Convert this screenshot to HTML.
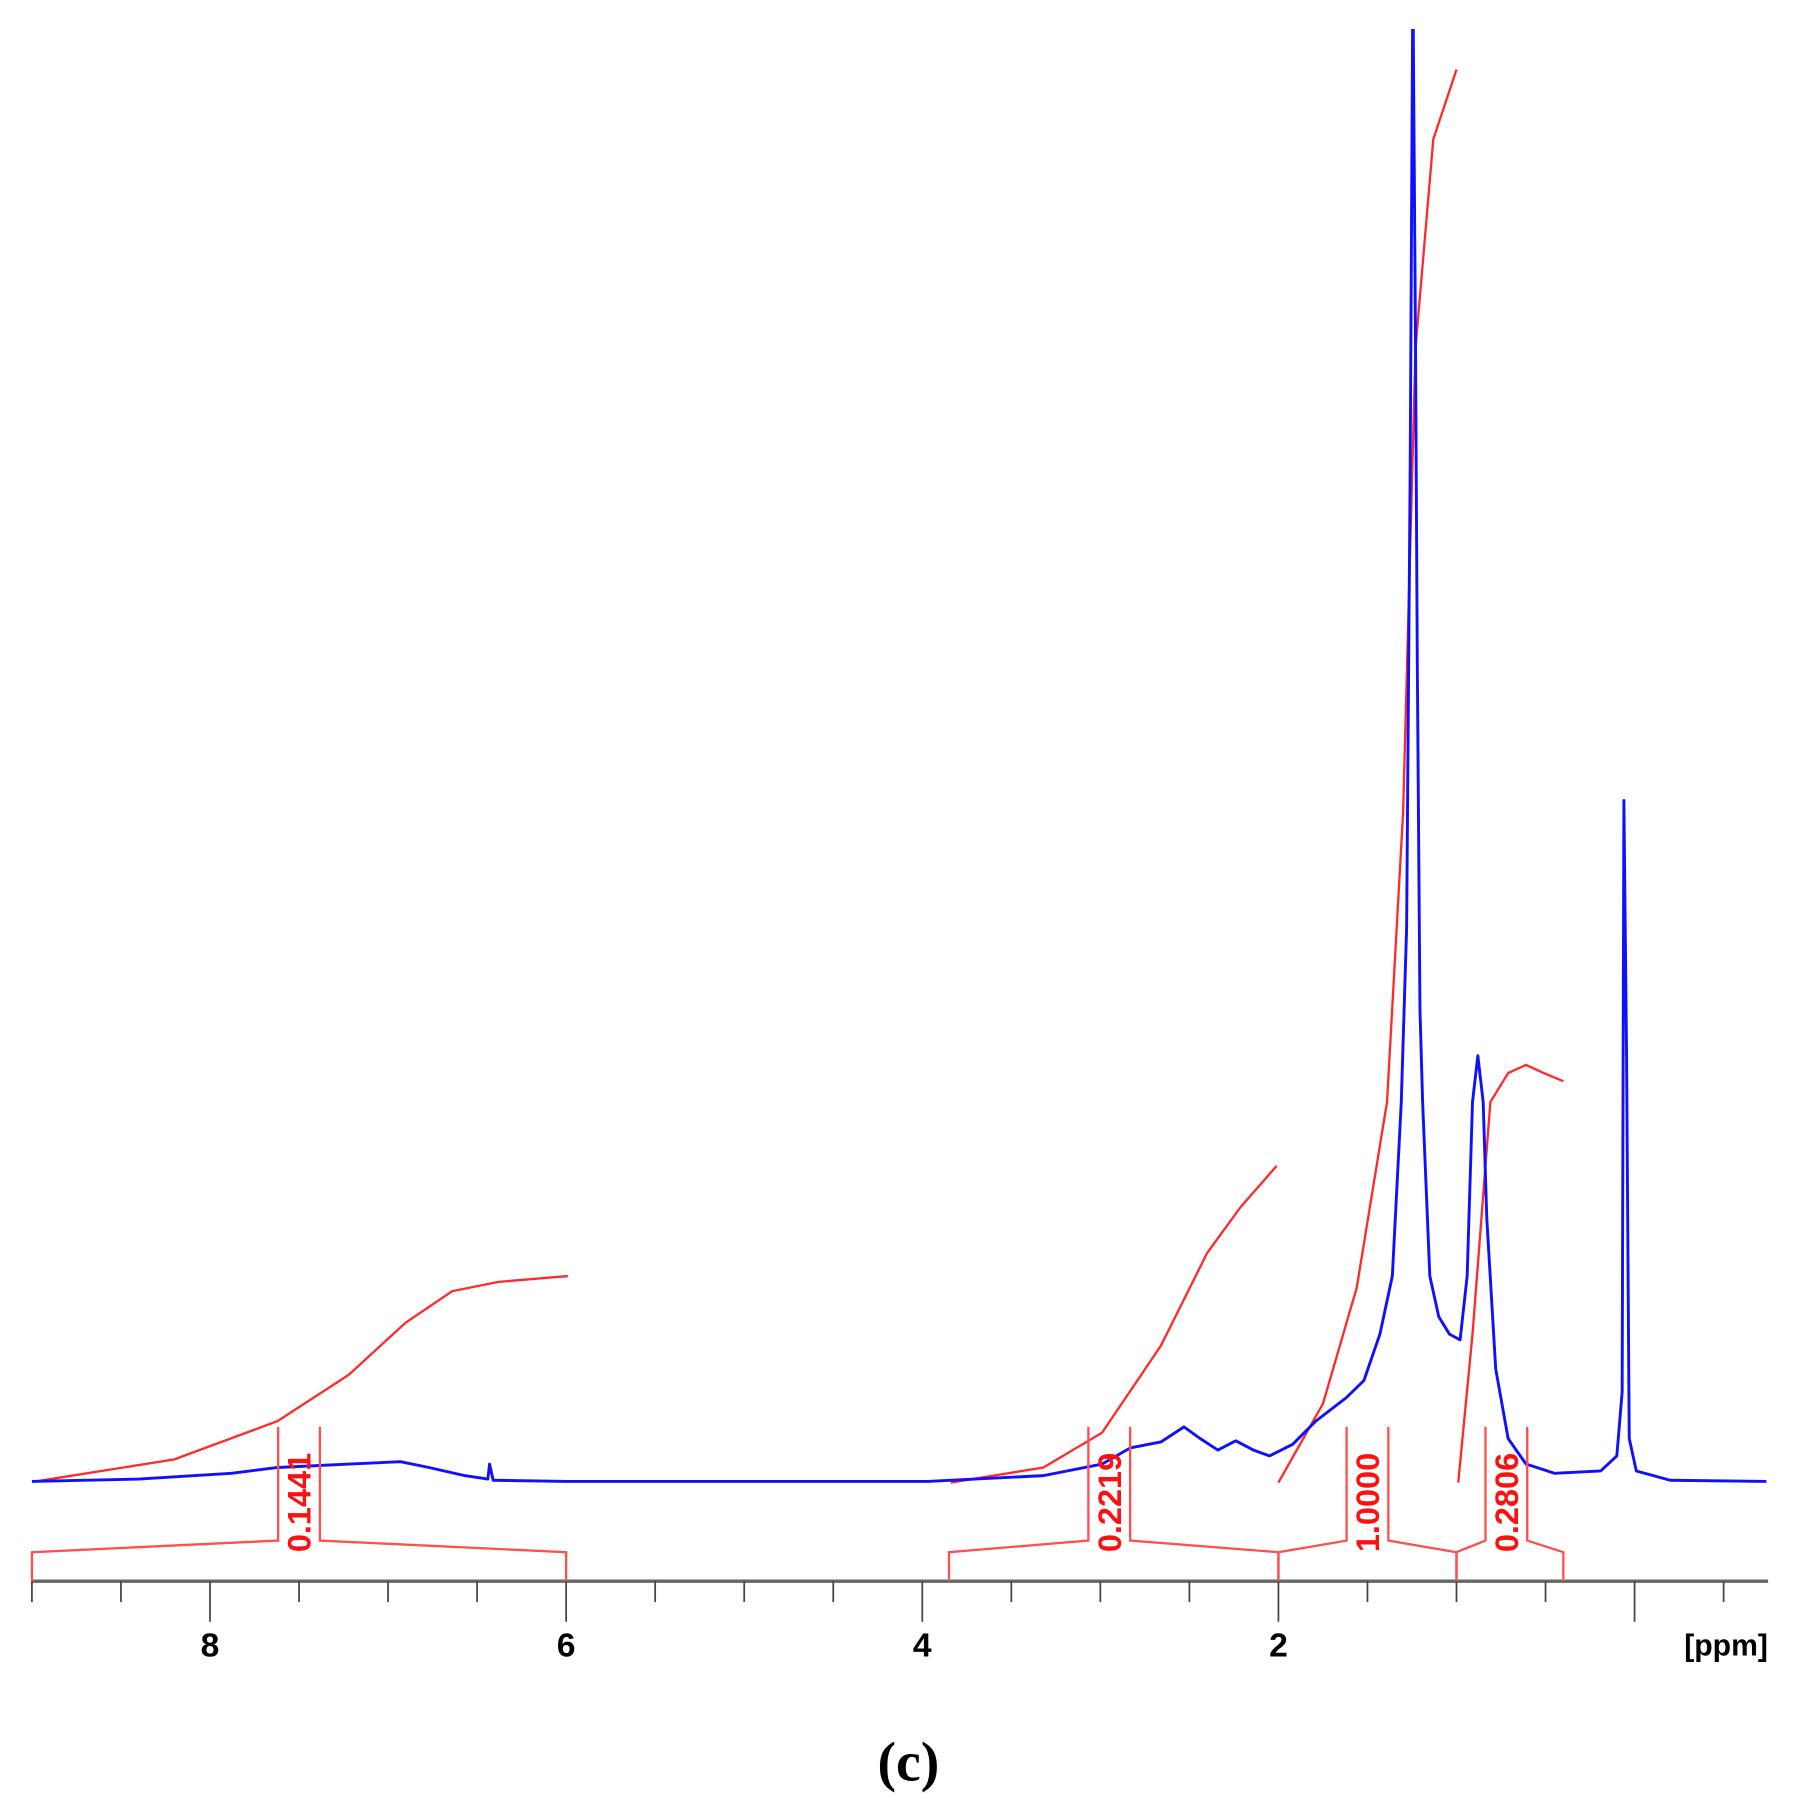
<!DOCTYPE html>
<html><head><meta charset="utf-8"><style>
html,body{margin:0;padding:0;background:#fff;}
svg{display:block;}
</style></head><body>
<svg id="chart" width="1797" height="1819" viewBox="0 0 1549 1568" xmlns="http://www.w3.org/2000/svg">
<g id="plot"></g>
<text x="783" y="1535" text-anchor="middle" font-family="Liberation Serif, serif" font-weight="bold" font-size="48">(c)</text>
</svg>
<script>
// spectrum data (ppm, intensity above baseline)
const specPpm = [9.0,8.40,7.88,7.62,7.22,6.93,6.77,6.57,6.44,6.43,6.41,5.99,3.97,3.32,2.99,2.83,2.66,2.53,2.44,2.34,2.24,2.14,2.05,1.92,1.79,1.62,1.52,1.43,1.36,1.31,1.28,1.26,1.245,1.23,1.22,1.205,1.19,1.15,1.10,1.04,0.98,0.94,0.91,0.88,0.85,0.83,0.78,0.71,0.61,0.45,0.19,0.10,0.07,0.06,0.045,0.03,-0.01,-0.20,-0.74];
const specInt = [0,2,7,12,15,17,12,5,2,15,1,0,0,5,15,29,34,47,37,27,35,27,22,32,52,72,87,127,177,327,477,877,1300,977,707,407,327,177,142,127,122,177,327,367,327,227,97,37,15,7,9,22,77,587,367,37,9,1,0];
// integral curves
const int1Ppm = [8.98,8.20,7.62,7.22,6.90,6.64,6.38,5.99];
const int1Val = [0,19,52,92,137,164,172,177];
const int2Ppm = [3.84,3.32,2.99,2.66,2.40,2.21,2.01];
const int2Val = [-1,12,42,117,197,237,272];
const int3Ppm = [2.0,1.75,1.56,1.39,1.30,1.23,1.13,1.00];
const int3Val = [-1,67,167,327,577,977,1157,1217];
const int4Ppm = [0.99,0.91,0.81,0.71,0.61,0.51,0.40];
const int4Val = [-1,127,327,352,359,352,345];
// integration regions
const regStart = [9.0,3.85,2.0,1.0];
const regEnd = [6.0,2.0,1.0,0.4];
const regLabelPpm = [7.5,2.95,1.5,0.72];
const regLabels = ["0.1441","0.2219","1.0000","0.2806"];
// axis
const majorTicks = [8,6,4,2,0];
const majorLabels = ["8","6","4","2",""];
const ppmMin = -0.75, ppmMax = 9.0;

const X = p => 1102 + (2 - p) * 153.5;
const Y = v => 1277 - v;
const NS = "http://www.w3.org/2000/svg";
const plot = document.getElementById('plot');
function mk(tag, attrs){const e=document.createElementNS(NS,tag);for(const k in attrs)e.setAttribute(k,attrs[k]);plot.appendChild(e);return e;}

const defs = mk('defs',{});
const cp = document.createElementNS(NS,'clipPath'); cp.setAttribute('id','clip');
const cr = document.createElementNS(NS,'rect'); cr.setAttribute('x',0);cr.setAttribute('y',25);cr.setAttribute('width',1549);cr.setAttribute('height',1400);
cp.appendChild(cr); defs.appendChild(cp);

function poly(px,vals){return px.map((p,i)=>X(p).toFixed(1)+','+Y(vals[i]).toFixed(1)).join(' ');}

[[int1Ppm,int1Val],[int2Ppm,int2Val],[int3Ppm,int3Val],[int4Ppm,int4Val]].forEach((d,i)=>{
  const el = mk('polyline',{points:poly(d[0],d[1]),fill:'none',stroke:'#ff2a2a','stroke-width':2,'clip-path':'url(#clip)'});
  
  
});

const sp = mk('polyline',{points:poly(specPpm,specInt),fill:'none',stroke:'#1010ff','stroke-width':2.5,'stroke-linejoin':'round','clip-path':'url(#clip)'});



const axY = 1363;
const ax = mk('line',{x1:X(ppmMax),x2:X(ppmMin),y1:axY,y2:axY,stroke:'#666','stroke-width':3});


for(let t=9.0;t>=ppmMin;t-=0.5){
  const tt=Math.round(t*2)/2;
  const major = majorTicks.includes(tt);
  const tk = mk('line',{x1:X(tt),x2:X(tt),y1:axY,y2:axY+(major?35:18),stroke:'#444','stroke-width':1.5});
  
  
}
majorTicks.forEach((t,i)=>{
  if(!majorLabels[i]) return;
  const tx = mk('text',{x:X(t),y:1428,'text-anchor':'middle','font-family':'Liberation Sans, sans-serif','font-weight':'bold','font-size':29});
  tx.textContent = majorLabels[i];
  
  
});
const unit = mk('text',{x:1524,y:1427,'text-anchor':'end','font-family':'Liberation Sans, sans-serif','font-weight':'bold','font-size':26});
unit.textContent='[ppm]';



regStart.forEach((s,i)=>{
  const e = regEnd[i], c = X(regLabelPpm[i]);
  const g = mk('g',{});
  
  
  const d = `M${X(s)},${axY} V1338 L${c-18},1328 V1230 M${c+18},1230 V1328 L${X(e)},1338 V${axY}`;
  const p = document.createElementNS(NS,'path');
  p.setAttribute('d',d);p.setAttribute('fill','none');p.setAttribute('stroke','#ff5050');p.setAttribute('stroke-width',2);
  g.appendChild(p);
  const t = document.createElementNS(NS,'text');
  t.setAttribute('transform',`translate(${c+10},1338) rotate(-90)`);
  t.setAttribute('font-family','Liberation Sans, sans-serif');
  t.setAttribute('font-weight','bold');t.setAttribute('font-size',28);t.setAttribute('fill','#ff1010');
  t.textContent = regLabels[i];
  
  
  g.appendChild(t);
});
</script>
</body></html>
